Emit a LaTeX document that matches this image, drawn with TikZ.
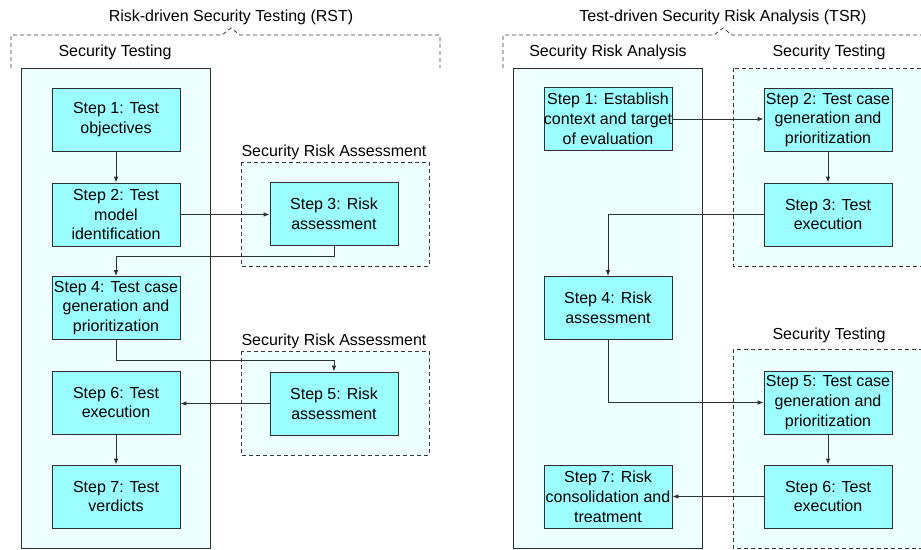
\documentclass[tikz,border=0pt]{standalone}
\usepackage{fontspec}
\setmainfont{Liberation Sans}
\usetikzlibrary{arrows.meta}
\definecolor{stepfill}{HTML}{9CFFFF}
\definecolor{areafill}{HTML}{EEFFFF}
\definecolor{edge}{HTML}{303030}
\definecolor{dashgray}{HTML}{3A3A3A}

\begin{document}
\begin{tikzpicture}[x=1pt,y=-1pt,
  stepbox/.style={draw=edge, fill=stepfill, line width=0.8pt, minimum width=128pt,
    minimum height=63pt, inner sep=0pt, align=center,
    font=\fontsize{16}{19.8}\selectfont},
  lbl/.style={font=\fontsize{16}{19}\selectfont, inner sep=0pt},
  area/.style={draw=edge, fill=areafill, line width=0.8pt},
  dasharea/.style={draw=dashgray, fill=areafill, line width=0.8pt, dash pattern=on 4pt off 3pt},
  brace/.style={draw=dashgray, line width=0.8pt, dash pattern=on 4pt off 3pt},
  link/.style={draw=edge, line width=0.8pt, -{Latex[length=6pt,width=4.5pt]}}
]
\clip (0,0) rectangle (921,549);

% ---------- Risk-driven Security Testing (RST) ----------
\node[lbl] (rsttitle) at (231,17) {Risk-driven Security Testing (RST)};
\draw[brace] (11,68) -- (11,35) -- (222,35) -- (231,28) -- (240,35) -- (440,35) -- (440,68);

\node[lbl] (rstst) at (115,52) {Security Testing};
\draw[area] (21,68) rectangle (210,548);

\node[lbl] (rstsra1) at (334,152) {Security Risk Assessment};
\draw[dasharea] (241,162) rectangle (429,266);
\node[lbl] (rstsra2) at (334,341) {Security Risk Assessment};
\draw[dasharea] (241,351) rectangle (429,455);

\node[stepbox] (L1) at (116,119.5) {Step 1: Test\\objectives};
\node[stepbox] (L2) at (116,214.5) {Step 2: Test\\model\\identification};
\node[stepbox] (L3) at (334,214) {Step 3: Risk\\assessment};
\node[stepbox] (L4) at (116,308) {Step 4: Test case\\generation and\\prioritization};
\node[stepbox] (L5) at (334,403.5) {Step 5: Risk\\assessment};
\node[stepbox] (L6) at (116,402.5) {Step 6: Test\\execution};
\node[stepbox] (L7) at (116,496.5) {Step 7: Test\\verdicts};

\draw[link] (L1) -- (L2);
\draw[link] (L2.east) -- (L3.west |- L2.east);
\draw[link] (L3.south) -- ++(0,10) -| (L4.north);
\draw[link] (L4.south) -- ++(0,20) -| (L5.north);
\draw[link] (L5.west) -- (L6.east |- L5.west);
\draw[link] (L6) -- (L7);

% ---------- Test-driven Security Risk Analysis (TSR) ----------
\node[lbl] (tsrtitle) at (723,17) {Test-driven Security Risk Analysis (TSR)};
\draw[brace] (503,68) -- (503,35) -- (714,35) -- (723,28) -- (732,35) -- (930,35);

\node[lbl] (tsrsra) at (608,52) {Security Risk Analysis};
\draw[area] (513,68) rectangle (702,548);

\node[lbl] (tsrst1) at (829,52) {Security Testing};
\draw[dasharea] (733,68) rectangle (930,266);
\node[lbl] (tsrst2) at (829,335) {Security Testing};
\draw[dasharea] (733,349) rectangle (930,548);

\node[stepbox] (R1) at (608,119) {Step 1: Establish\\context and target\\of evaluation};
\node[stepbox] (R2) at (828,120) {Step 2: Test case\\generation and\\prioritization};
\node[stepbox] (R3) at (828,214.5) {Step 3: Test\\execution};
\node[stepbox] (R4) at (608,308) {Step 4: Risk\\assessment};
\node[stepbox] (R5) at (828,402.5) {Step 5: Test case\\generation and\\prioritization};
\node[stepbox] (R6) at (828,496.5) {Step 6: Test\\execution};
\node[stepbox] (R7) at (608,496.5) {Step 7: Risk\\consolidation and\\treatment};

\draw[link] (R1.east) -- (R2.west |- R1.east);
\draw[link] (R2) -- (R3);
\draw[link] (R3.west) -| (R4.north);
\draw[link] (R4.south) |- (R5.west);
\draw[link] (R5) -- (R6);
\draw[link] (R6.west) -- (R7.east |- R6.west);
\end{tikzpicture}
\end{document}
